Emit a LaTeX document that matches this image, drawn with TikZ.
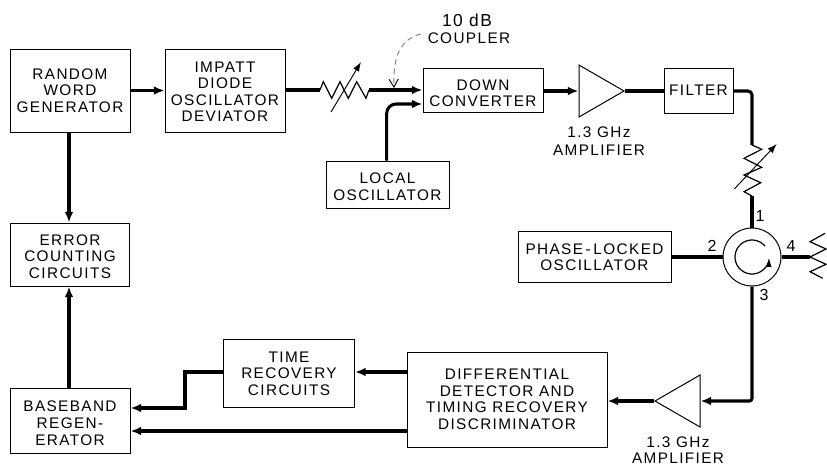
\documentclass[tikz,border=0pt]{standalone}
\usepackage{fontspec}
\setmainfont[LetterSpace=9]{Liberation Sans}
\usetikzlibrary{arrows.meta,shapes.geometric}
\newcommand{\strutup}[1]{\rule{0pt}{#1}}

\begin{document}
\begin{tikzpicture}[
    x=0.75pt, y=-0.75pt,
    box/.style={draw, rectangle, align=center, line width=0.75pt, inner sep=0pt,
                font=\fontsize{11.5}{12.4}\selectfont},
    label/.style={align=center, inner sep=0pt, font=\fontsize{11.5}{12.2}\selectfont},
    port/.style={inner sep=0pt, font=\fontsize{12}{14}\selectfont},
    amp/.style={draw, isosceles triangle, isosceles triangle apex angle=60, line width=0.75pt,
                inner sep=0pt, minimum height=33.75pt},
    line/.style={line width=2.3pt},
    arrow/.style={line width=2.3pt, -{Latex[length=8pt, width=6.5pt]}},
    res/.style={line width=0.9pt, line join=miter},
    tune/.style={line width=0.7pt, -{Latex[length=7pt, width=5pt]}}
]
\useasboundingbox (0,0) rectangle (827,465);

% blocks
\node[box, minimum width=90pt, minimum height=62.25pt] (random) at (70,90.5) {RANDOM\\WORD\\GENERATOR};
\node[box, minimum width=90pt, minimum height=62.25pt] (impatt) at (225,90.5) {\strutup{9.8pt}IMPATT\\DIODE\\OSCILLATOR\\DEVIATOR};
\node[box, minimum width=90pt, minimum height=33pt] (down) at (483,90) {\strutup{12.8pt}DOWN\\CONVERTER};
\node[box, minimum width=92.25pt, minimum height=35.25pt] (local) at (387.5,184.5) {\strutup{11.3pt}LOCAL\\OSCILLATOR};
\node[box, minimum width=51.75pt, minimum height=33.75pt] (filter) at (698.5,90.5) {FILTER};
\node[box, minimum width=114.75pt, minimum height=38.25pt] (phase) at (594.5,257) {PHASE\kern2pt-\kern2pt LOCKED\\OSCILLATOR};
\node[box, minimum width=89.25pt, minimum height=47.25pt] (error) at (70,254.5) {\strutup{11.3pt}ERROR\\COUNTING\\CIRCUITS};
\node[box, minimum width=90pt, minimum height=48.75pt] (base) at (70,421) {\strutup{11.3pt}BASEBAND\\REGEN-\\ERATOR};
\node[box, minimum width=98.25pt, minimum height=51pt] (time) at (289,373.5) {TIME\\RECOVERY\\CIRCUITS};
\node[box, minimum width=150pt, minimum height=71.25pt] (diff) at (507,399.5) {DIFFERENTIAL\\DETECTOR AND\\TIMING RECOVERY\\DISCRIMINATOR};

% amplifiers
\node[amp, anchor=apex] (ampa) at (625,91) {};
\node[amp, anchor=apex, shape border rotate=180] (ampb) at (654,401) {};

% circulator
\node[draw, circle, line width=0.75pt, minimum size=43.5pt, inner sep=0pt] (circ) at (752,257) {};
\draw[line width=0.9pt, -{Latex[length=7pt, width=4.5pt]}] (circ.center) ++(-40:17) arc (-40:-358:17);

% attenuators
\coordinate (atta) at (320,90);
\coordinate (attb) at (369,90);
\coordinate (attc) at (752,145);
\coordinate (attd) at (752,196);
\draw[res] (atta) -- (323.3,81.7) -- (331.7,98.3) -- (340,81.7) -- (348.3,98.3) -- (356.7,81.7) -- (366,98.3) -- (attb);
\draw[tune] (331,112) -- (361,62);
\draw[res] (attc) -- (761.7,149.3) -- (744,158.3) -- (761.7,167.3) -- (744,175) -- (760.7,182.7) -- (744,191.7) -- (attd);
\draw[tune] (734.3,189) -- (776.7,144);

% termination
\coordinate (term) at (810,257);
\draw[res] (825,233.3) -- (810,241.7) -- (826,249) -- (term) -- (826,264.3) -- (810,271.7) -- (822.7,278.3);

% connections
\draw[arrow] (random.east) -- (impatt.west);
\draw[line] (impatt.east |- atta) -- (atta);
\draw[arrow] (attb) -- (down.west);
\draw[arrow, rounded corners=7pt] (local.north -| 386.7,0) |- (down.west |- 0,104);
\draw[arrow] (down.east |- ampa.lower side) -- (ampa.lower side);
\draw[line] (ampa.apex) -- (filter.west |- ampa.apex);
\draw[line, rounded corners=3pt] (filter.east |- ampa.apex) -| (attc);
\draw[line] (attd) -- (circ.north);
\draw[line] (phase.east) -- (circ.west);
\draw[line] (circ.east) -- (term);
\draw[arrow, rounded corners=2pt] (circ.south) |- (ampb.lower side);
\draw[arrow] (ampb.apex) -- (diff.east |- ampb.apex);
\draw[arrow] (diff.west |- 0,372) -- (time.east |- 0,372);
\draw[arrow] (time.west |- 0,372) -- (185,372) -- (185,408) -- (base.east |- 0,408);
\draw[arrow] (diff.west |- 0,431) -- (base.east |- 0,431);
\draw[arrow] (base.north -| 69,0) -- (error.south -| 69,0);
\draw[arrow] (random.south -| 69,0) -- (error.north -| 69,0);

% labels
\node[label, font=\fontsize{13}{14}\selectfont] (db) at (467,20) {10 dB};
\node[label] (coupler) at (469,38) {COUPLER};
\coordinate (tap) at (394,88);
\draw[line width=0.7pt, gray, dash pattern=on 4pt off 3pt, -{Straight Barb[length=6pt, width=7pt, black]}] ([xshift=-5pt, yshift=3pt]coupler.west) .. controls (398,40) and (393,60) .. (tap);
\node[label] (ampalabel) at (599,141) {1.3 GHz\\[1.5pt]AMPLIFIER};
\node[label] (ampblabel) at (678,450) {1.3 GHz\\AMPLIFIER};
\node[port] (porta) at (760,216) {1};
\node[port] (portb) at (712,246) {2};
\node[port] (portc) at (764,295) {3};
\node[port] (portd) at (791,246) {4};
\end{tikzpicture}
\end{document}
